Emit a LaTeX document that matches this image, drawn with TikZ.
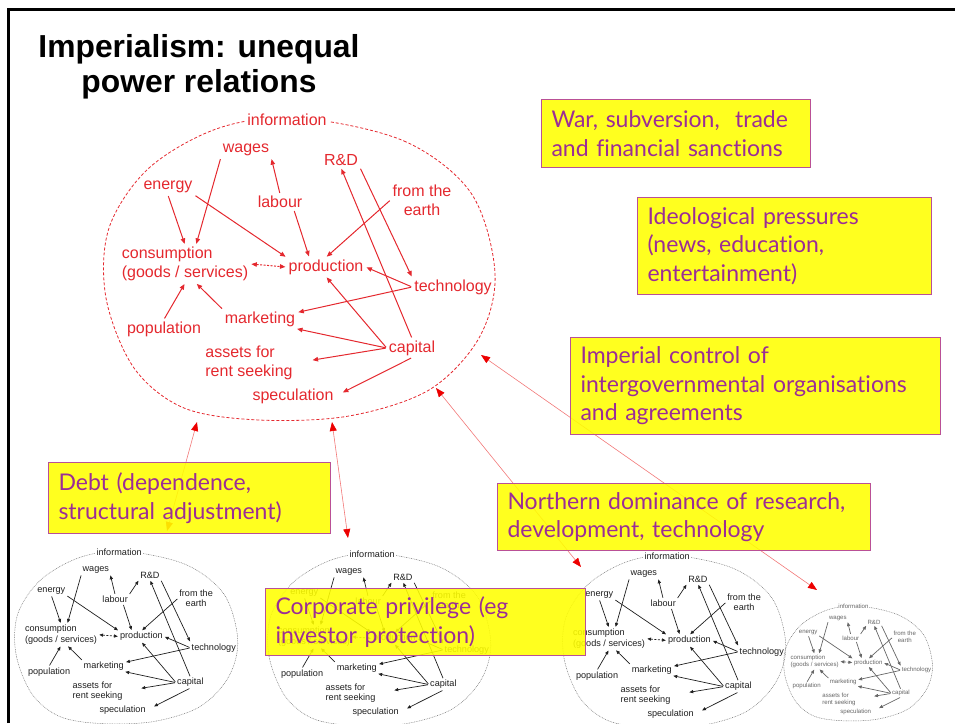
\documentclass[tikz,border=0pt]{standalone}
\usepackage{fontspec}
\setmainfont{Liberation Sans}
\newfontfamily\boxfont{Lato}[Ligatures=NoCommon]
\usepackage{tikz}
\usetikzlibrary{arrows.meta}

\definecolor{mapred}{RGB}{228,40,46}
\definecolor{mapgrey}{RGB}{30,30,30}
\definecolor{linkred}{RGB}{242,120,120}
\definecolor{tipred}{RGB}{236,0,0}
\definecolor{boxfill}{RGB}{255,255,0}
\definecolor{boxline}{RGB}{185,80,150}
\definecolor{boxink}{RGB}{155,45,150}

\tikzset{
  mapc/.code = {\colorlet{mapcol}{#1}},
  maplw/.store in = \maplw,
  mapc = mapred, maplw = 1pt,
  maptip/.tip = {Triangle[length=0pt 5.5, width=0pt 4.5]},
  linktip/.tip = {Triangle[length=9pt, width=7pt, color=tipred]},
  maplabel/.style = {text=mapcol, font=\fontsize{16}{19}\selectfont, inner sep=2pt},
  maparrow/.style = {draw=mapcol, line width=\maplw, -maptip, shorten <=1pt, shorten >=1pt},
  maprim/.style = {draw=mapcol, line width=.8pt, dash pattern=on 3pt off 2pt},
  rdlink/.style = {},
  smallmap/.style = {transform shape, mapc=mapgrey, maplw=.7pt,
    maprim/.style={draw=black!55, line width=.5pt, dash pattern=on .8pt off .9pt}},
  link/.style = {draw=linkred, line width=.6pt, linktip-linktip},
  yellowbox/.style = {draw=boxline, line width=1pt, fill=boxfill, fill opacity=.88,
    text opacity=1, text=boxink, font=\boxfont\fontsize{23}{28.5}\selectfont,
    align=left, anchor=north west, inner xsep=10pt, inner ysep=0pt}
}

\tikzset{
  econmap/.pic = {
    \draw[maprim] plot[smooth cycle, tension=.55] coordinates {
      (0,-150) (105,-127) (172,-75) (196,5) (180,70) (130,122) (50,148)
      (-40,152) (-115,140) (-165,100) (-193,30) (-190,-40) (-150,-100) (-80,-140)};
    \node[maplabel, fill=white] (-info) at (-12,-148) {information};
    \node[maplabel] (-wages) at (-53,-118) {wages};
    \node[maplabel] (-rd) at (42,-108) {R\&D};
    \node[maplabel] (-energy) at (-131,-81) {energy};
    \node[maplabel] (-labour) at (-19,-66) {labour};
    \node[maplabel, align=center] (-earth) at (123,-68) {from the\\earth};
    \node[maplabel, align=left] (-cons) at (-114,-4) {consumption\\(goods / services)};
    \node[maplabel] (-prod) at (27,-1) {production};
    \node[maplabel] (-tech) at (154,19) {technology};
    \node[maplabel] (-pop) at (-135,61) {population};
    \node[maplabel] (-mark) at (-39,51) {marketing};
    \node[maplabel] (-capital) at (113,80) {capital};
    \node[maplabel, align=left] (-assets) at (-50,95) {assets for\\rent seeking};
    \node[maplabel] (-spec) at (-6,128) {speculation};
    \draw[maparrow] (-wages.south west) -- (-cons.60);
    \draw[maparrow] (-labour.north) -- (-wages.south east);
    \draw[maparrow, rdlink] (-labour.north east) -- (-rd.south west);
    \draw[maparrow] (-energy.south) -- (-cons.north);
    \draw[maparrow] (-energy.south east) -- (-prod.north west);
    \draw[maparrow] (-labour.-30) -- (-prod.150);
    \draw[maparrow] (-earth.west) -- (-prod.north);
    \draw[maparrow] (-rd.south east) -- (-tech.north west);
    \draw[maparrow] (-capital.north) -- (-rd.south);
    \draw[maparrow, maptip-maptip, dash pattern=on 2pt off 1.5pt] (-cons.east) -- (-prod.west);
    \draw[maparrow] (-tech.west) -- (-prod.east);
    \draw[maparrow] (-tech.west) -- (-mark.10);
    \draw[maparrow] (-capital.west) -- (-prod.south);
    \draw[maparrow] (-capital.west) -- (-mark.-15);
    \draw[maparrow, shorten >=18pt] (-capital.west) -- (-assets.east);
    \draw[maparrow, shorten >=8pt] (-capital.south) -- (-spec.east);
    \draw[maparrow] (-pop.north) -- (-cons.south);
    \draw[maparrow] (-mark.north west) -- (-cons.-60);
  }
}

\begin{document}
\begin{tikzpicture}[x=1pt, y=-1pt]
\useasboundingbox (0,0) rectangle (955,723);
\draw[line width=3pt] (8.5,723) -- (8.5,9.5) -- (955,9.5);

\node[font=\bfseries\fontsize{31.8}{35}\selectfont, align=center, inner sep=0pt, anchor=north]
  (title) at (199,34) {Imperialism: unequal\\power relations};

\pic[rdlink/.style={opacity=0}] (R) at (299,268) {econmap};
\pic[smallmap, scale=.57] (B1) at (126,637) {econmap};
\pic[smallmap, scale=.57] (B2) at (379,639) {econmap};
\pic[smallmap, scale=.57] (B3) at (674,641) {econmap};
\pic[smallmap, scale=.38, mapc=black!60] (B4) at (858,663) {econmap};

\coordinate (debt up) at (197,422);
\coordinate (debt down) at (167,531);
\coordinate (corp up) at (332,422);
\coordinate (corp down) at (348,538);
\coordinate (north up) at (436,388);
\coordinate (north down) at (581,567);
\coordinate (imp up) at (481,355);
\coordinate (imp down) at (817,590);
\draw[link] (debt up) -- (debt down);
\draw[link] (corp up) -- (corp down);
\draw[link] (north up) -- (north down);
\draw[link] (imp up) -- (imp down);

\node[yellowbox, minimum width=269pt, text width=249pt, minimum height=68pt] (war) at (541,99)
  {War, subversion,~ trade\\and financial sanctions};
\node[yellowbox, minimum width=294pt, text width=274pt, minimum height=97pt] (ideo) at (637,197)
  {Ideological pressures\\(news, education,\\entertainment)};
\node[yellowbox, minimum width=370pt, text width=350pt, minimum height=97pt] (imperial) at (570,337)
  {Imperial control of\\intergovernmental organisations\\and agreements};
\node[yellowbox, minimum width=373pt, text width=353pt, minimum height=67pt] (north) at (497,483)
  {Northern dominance of research,\\development, technology};
\node[yellowbox, minimum width=282pt, text width=262pt, minimum height=71pt] (debt) at (48,462)
  {Debt (dependence,\\structural adjustment)};
\node[yellowbox, minimum width=320pt, text width=300pt, minimum height=67pt] (corp) at (265,588)
  {Corporate privilege (eg\\investor protection)};
\end{tikzpicture}
\end{document}
